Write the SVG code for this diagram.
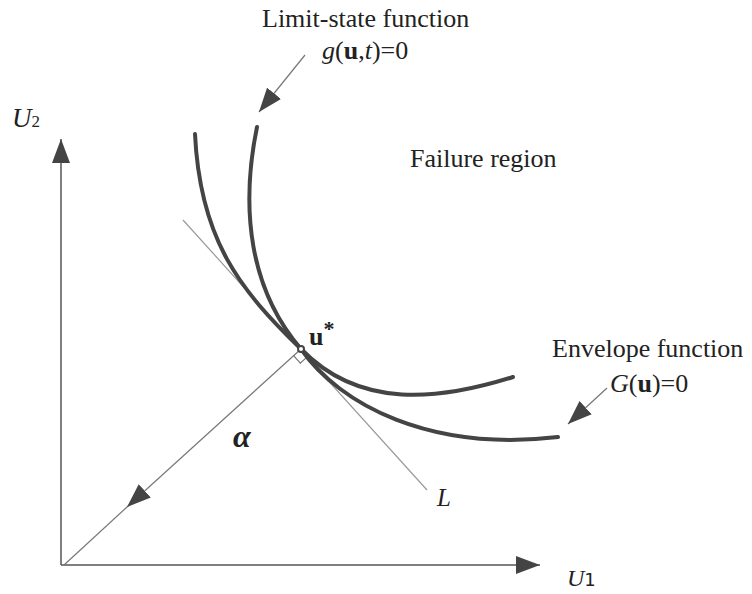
<svg xmlns="http://www.w3.org/2000/svg" width="752" height="594" viewBox="0 0 752 594">
<defs>
<marker id="ah" markerUnits="userSpaceOnUse" viewBox="0 0 24 18" refX="24" refY="9" markerWidth="24" markerHeight="18" orient="auto">
<path d="M0,0 L24,9 L0,18 z" fill="#444"/>
</marker>
</defs>
<style>
.t{font-family:"Liberation Serif","Times New Roman",serif;fill:#222;font-size:26px}
.i{font-style:italic}
.b{font-weight:bold}
.curve{fill:none;stroke:#444;stroke-width:4;stroke-linecap:round}
.axis{fill:none;stroke:#555;stroke-width:1.5}
.thin{fill:none;stroke:#777;stroke-width:1.2}
.lt{fill:none;stroke:#999;stroke-width:1.2}
</style>
<rect width="752" height="594" fill="#fff"/>
<g id="connectors">
<line class="axis" x1="61" y1="565" x2="61" y2="139" marker-end="url(#ah)"/>
<line class="axis" x1="61" y1="565" x2="540" y2="565" marker-end="url(#ah)"/>
<line class="lt" x1="183" y1="220" x2="427" y2="490"/>
<line class="thin" x1="301" y1="349" x2="127" y2="507" marker-end="url(#ah)"/>
<line class="thin" x1="127" y1="507" x2="64" y2="565"/>
<line class="thin" x1="305" y1="55" x2="259" y2="112" marker-end="url(#ah)"/>
<line class="thin" x1="607" y1="388" x2="568" y2="424" marker-end="url(#ah)"/>
<path class="thin" d="M293.6,355.7 L300.3,363.1 L307.7,356.4"/>
</g>
<g id="limit-state">
<path class="curve" d="M257,127 C240,210 250,290 301,349 C360,410 440,400 513,377"/>
<text class="t" x="262" y="27">Limit-state function</text>
<text class="t" x="322" y="59"><tspan class="i">g</tspan>(<tspan class="b">u</tspan>,<tspan class="i">t</tspan>)=0</text>
</g>
<g id="envelope">
<path class="curve" d="M195,134 C200,240 240,290 301,349 C340,405 430,452 558,437"/>
<text class="t" x="552" y="357">Envelope function</text>
<text class="t" x="610" y="392"><tspan class="i">G</tspan>(<tspan class="b">u</tspan>)=0</text>
</g>
<g id="failure-region">
<text class="t" x="410" y="167">Failure region</text>
</g>
<g id="design-point">
<circle cx="301" cy="349" r="3" fill="#fff" stroke="#444" stroke-width="2"/>
<text class="t b" x="309" y="345">u<tspan style="font-size:22px" dy="-9">*</tspan></text>
</g>
<g id="alpha">
<text class="t b i" x="233" y="447" style="font-size:32px">α</text>
</g>
<g id="labels">
<text class="t" x="12" y="127"><tspan class="i" style="font-size:27px">U</tspan><tspan style="font-size:17px">2</tspan></text>
<text class="t" x="567" y="586"><tspan class="i" style="font-size:24px">U</tspan><tspan style="font-size:18px;font-family:'DejaVu Sans',sans-serif">1</tspan></text>
<text class="t i" x="437" y="506" style="font-size:25px">L</text>
</g>
</svg>
